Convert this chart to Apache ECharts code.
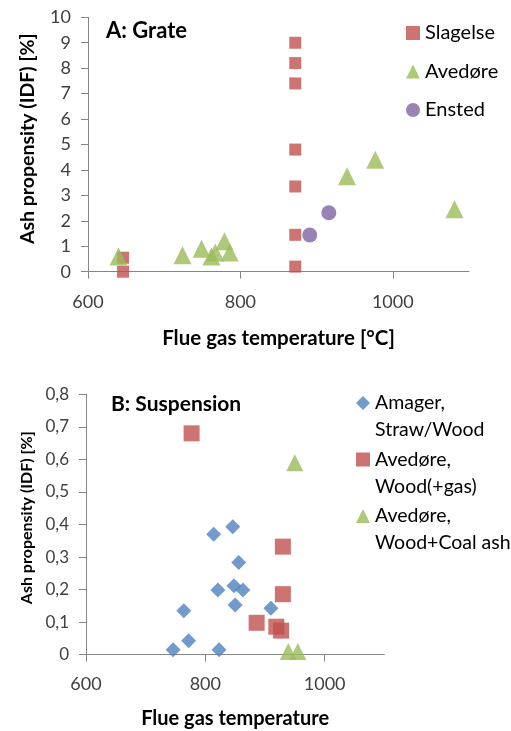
<!DOCTYPE html>
<html>
<head>
<meta charset="utf-8">
<script src="https://cdn.jsdelivr.net/npm/echarts@6/dist/echarts.min.js"></script>
<style>html,body{margin:0;padding:0;background:#fff}#c{width:511px;height:731px}</style>
</head>
<body>
<div id="c"></div>
<script>
// ---- Chart A: Grate ----
const slagelseT = [646, 646, 872, 872, 872, 872, 872, 872, 872];
const slagelseV = [0.55, 0.0, 9.0, 8.2, 7.4, 4.8, 3.35, 1.45, 0.2];
const avedoreT = [640, 724, 749, 762, 767, 779, 786, 940, 977, 1081];
const avedoreV = [0.6, 0.65, 0.9, 0.6, 0.75, 1.2, 0.75, 3.75, 4.4, 2.45];
const enstedT = [891, 916];
const enstedV = [1.44, 2.32];
// ---- Chart B: Suspension ----
const amagerT = [746, 764, 772, 814, 821, 823, 846, 848, 850, 856, 863, 910];
const amagerV = [0.015, 0.135, 0.043, 0.37, 0.199, 0.015, 0.393, 0.212, 0.153, 0.283, 0.199, 0.143];
const woodGasT = [777, 886, 919, 927, 930, 930];
const woodGasV = [0.68, 0.098, 0.086, 0.074, 0.332, 0.186];
const coalT = [939, 950, 955];
const coalV = [0.01, 0.59, 0.01];
// ---- Labels ----
const xTicks = [600, 800, 1000];
const titleA = 'A: Grate';
const titleB = 'B: Suspension';
const yName = 'Ash propensity (IDF) [%]';
const xNameA = 'Flue gas temperature [°C]';
const xNameB = 'Flue gas temperature';
const namesA = ['Slagelse', 'Avedøre', 'Ensted'];
const namesB = ['Amager,\nStraw/Wood', 'Avedøre,\nWood(+gas)', 'Avedøre,\nWood+Coal ash'];

const pairs = (t, v) => t.map((x, i) => [x, v[i]]);
const FONT = 'Lato';
const RED = '#C0504D', GREEN = '#9BBB59', PURPLE = '#8064A2', BLUE = '#4F81BD';
const AXIS = '#868686', LBL = '#404040';

function xAxis(gridIndex, name, gap, margin, nameFs) {
  return {
    type: 'value', gridIndex, min: 600, max: 1100,
    name, nameLocation: 'middle', nameGap: gap,
    nameTextStyle: {fontFamily: FONT, fontWeight: 'bold', fontSize: nameFs, color: '#000'},
    splitLine: {show: false},
    axisLine: {show: true, lineStyle: {color: AXIS, width: 1}},
    axisTick: {show: true, length: 7, lineStyle: {color: AXIS}, customValues: xTicks},
    axisLabel: {fontFamily: FONT, fontSize: 18, color: LBL, margin, customValues: xTicks, formatter: v => String(v)}
  };
}
function yAxis(gridIndex, max, interval, fmt, fs, nameFs, gap, pad) {
  return {
    type: 'value', gridIndex, min: 0, max, interval,
    name: yName, nameLocation: 'middle', nameGap: gap,
    nameTextStyle: {fontFamily: FONT, fontWeight: 'bold', fontSize: nameFs, color: '#000', padding: [0, 0, 0, pad]},
    splitLine: {show: false},
    axisLine: {show: true, lineStyle: {color: AXIS, width: 1}},
    axisTick: {show: true, length: 7, lineStyle: {color: AXIS}},
    axisLabel: {fontFamily: FONT, fontSize: fs, color: LBL, margin: 17, formatter: fmt}
  };
}

const chart = echarts.init(document.getElementById('c'), null, {renderer: 'canvas'});
chart.setOption({
  animation: false,
  backgroundColor: '#fff',
  title: [
    {text: titleA, left: 106, top: 20, padding: 0, textStyle: {fontFamily: FONT, fontWeight: 'bold', fontSize: 22, color: '#000'}},
    {text: titleB, left: 111, top: 394, padding: 0, textStyle: {fontFamily: FONT, fontWeight: 'bold', fontSize: 21, color: '#000'}}
  ],
  legend: [
    {
      orient: 'vertical', left: 406, top: 22, padding: 0, itemGap: 16.5,
      itemWidth: 14, itemHeight: 14, seriesIndex: [0, 1, 2],
      data: namesA,
      textStyle: {fontFamily: FONT, fontSize: 20, color: '#000', lineHeight: 22}
    },
    {
      orient: 'vertical', left: 356, top: 362.5, padding: 0, itemGap: -24.5,
      itemWidth: 14, itemHeight: 14,
      data: namesB,
      formatter: n => '\n' + n,
      textStyle: {fontFamily: FONT, fontSize: 19.5, color: '#000', lineHeight: 27}
    }
  ],
  grid: [
    {left: 88, right: 42, top: 17.3, bottom: 459.3},
    {left: 86, right: 126.7, top: 394.3, bottom: 76.3}
  ],
  xAxis: [xAxis(0, xNameA, 56, 21, 20.5), xAxis(1, xNameB, 54, 20, 20)],
  yAxis: [
    yAxis(0, 10, 1, v => String(v), 18, 19.5, 50, 11.5),
    yAxis(1, 0.8, 0.1, v => (Math.abs(v) < 1e-9 ? '0' : v.toFixed(1).replace('.', ',')), 17, 16, 51, 13.5)
  ],
  series: [
    {name: namesA[0], type: 'scatter', xAxisIndex: 0, yAxisIndex: 0, symbol: 'rect', symbolSize: 12, itemStyle: {color: RED}, data: pairs(slagelseT, slagelseV)},
    {name: namesA[1], type: 'scatter', xAxisIndex: 0, yAxisIndex: 0, symbol: 'triangle', symbolSize: 18, itemStyle: {color: GREEN}, data: pairs(avedoreT, avedoreV)},
    {name: namesA[2], type: 'scatter', xAxisIndex: 0, yAxisIndex: 0, symbol: 'circle', symbolSize: 15, itemStyle: {color: PURPLE}, data: pairs(enstedT, enstedV)},
    {name: namesB[0], type: 'scatter', xAxisIndex: 1, yAxisIndex: 1, symbol: 'diamond', symbolSize: 15, itemStyle: {color: BLUE}, data: pairs(amagerT, amagerV)},
    {name: namesB[1], type: 'scatter', xAxisIndex: 1, yAxisIndex: 1, symbol: 'rect', symbolSize: 16, itemStyle: {color: RED}, data: pairs(woodGasT, woodGasV)},
    {name: namesB[2], type: 'scatter', xAxisIndex: 1, yAxisIndex: 1, symbol: 'triangle', symbolSize: 17, itemStyle: {color: GREEN}, data: pairs(coalT, coalV)}
  ]
});
</script>
</body>
</html>
